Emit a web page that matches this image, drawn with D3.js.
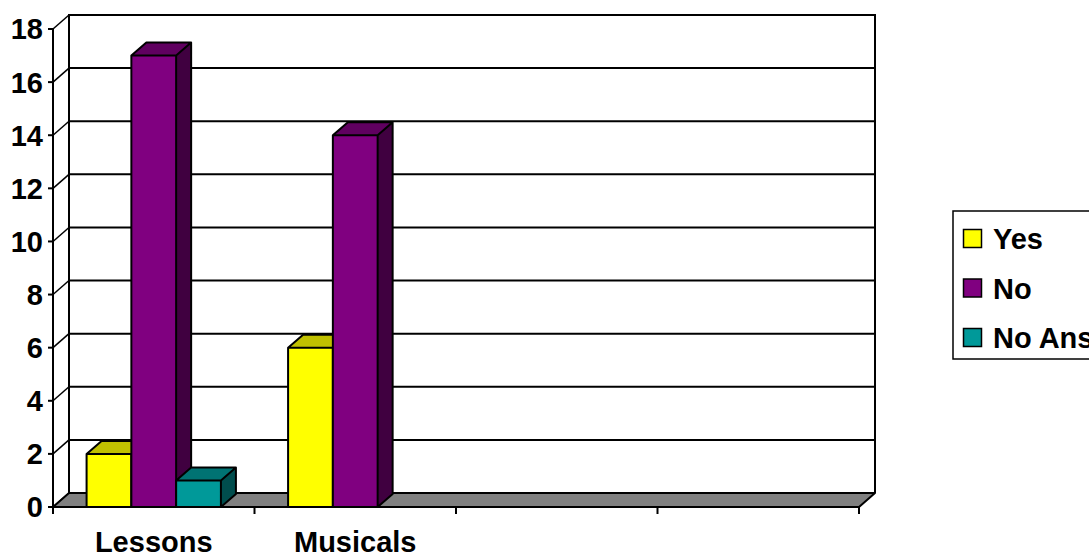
<!DOCTYPE html>
<html>
<head>
<meta charset="utf-8">
<script src="https://cdn.jsdelivr.net/npm/d3@7"></script>
<style>
  html, body { margin: 0; padding: 0; background: #fff; }
  svg { display: block; }
  text { font-family: Arial, "Liberation Sans", sans-serif; font-weight: bold; fill: #000; }
</style>
</head>
<body>
<svg id="chart" width="1089" height="556"></svg>
<script>
// Survey answers per topic
const categories = ["Lessons", "Musicals", "", ""];
const seriesNames = ["Yes", "No", "No Ans"];
const yesValues = [2, 6, null, null];
const noValues = [17, 14, null, null];
const noAnsValues = [1, 0, null, null];
const yTicks = [0, 2, 4, 6, 8, 10, 12, 14, 16, 18];

const seriesValues = [yesValues, noValues, noAnsValues];
const fills = [
  { front: "#FFFF00", top: "#C0C000", side: "#808000" },
  { front: "#800080", top: "#600060", side: "#400040" },
  { front: "#009999", top: "#007373", side: "#004D4D" }
];

const svg = d3.select("#chart");
const fontSize = "29px";

// Front plane geometry and depth offsets of the 3D box
const left = 53, right = 859;
const depthX = 16, depthY = -14;      // floor / walls
const barDX = 15, barDY = -13;        // column depth

const x = d3.scaleBand().domain(d3.range(categories.length)).range([left, right]).paddingInner(0).paddingOuter(0);
const y = d3.scaleLinear().domain([0, 18]).range([507, 29]);

// gap width 150%: three columns plus 1.5 column widths of gap per category
const colW = x.bandwidth() / 4.5;
const inner = d3.scaleBand().domain(d3.range(seriesNames.length)).range([0, colW * 3]);

const lineColor = "#000";

// Back wall gridlines
svg.append("g").selectAll("line").data(yTicks).join("line")
  .attr("x1", left + depthX).attr("x2", right + depthX)
  .attr("y1", d => y(d) + depthY).attr("y2", d => y(d) + depthY)
  .attr("stroke", lineColor).attr("stroke-width", 2);

// Left wall diagonals
svg.append("g").selectAll("line").data(yTicks).join("line")
  .attr("x1", left).attr("x2", left + depthX)
  .attr("y1", d => y(d)).attr("y2", d => y(d) + depthY)
  .attr("stroke", lineColor).attr("stroke-width", 1.5);

// Back wall outline
svg.append("path")
  .attr("d", `M${left + depthX},${y(0) + depthY}V${y(18) + depthY}H${right + depthX}V${y(0) + depthY}`)
  .attr("fill", "none").attr("stroke", lineColor).attr("stroke-width", 2);

// Floor
svg.append("path")
  .attr("d", `M${left},${y(0)}L${right},${y(0)}L${right + depthX},${y(0) + depthY}L${left + depthX},${y(0) + depthY}Z`)
  .attr("fill", "#808080").attr("stroke", lineColor).attr("stroke-width", 2).attr("stroke-linejoin", "round");

// Columns, drawn left to right so each front face covers the previous side face
const bars = [];
categories.forEach((c, ci) => {
  seriesValues.forEach((vals, si) => {
    const v = vals[ci];
    if (v == null || v <= 0) return;
    bars.push({ ci, si, v });
  });
});

const barG = svg.append("g");
bars.forEach(b => {
  const x0 = x(b.ci) + colW * 0.75 + inner(b.si);
  const x1 = x0 + inner.bandwidth();
  const yt = y(b.v), yb = y(0);
  const g = barG.append("g");
  const f = fills[b.si];
  // side
  g.append("path")
    .attr("d", `M${x1},${yb}L${x1 + barDX},${yb + barDY}L${x1 + barDX},${yt + barDY}L${x1},${yt}Z`)
    .attr("fill", f.side);
  // top
  g.append("path")
    .attr("d", `M${x0},${yt}L${x0 + barDX},${yt + barDY}L${x1 + barDX},${yt + barDY}L${x1},${yt}Z`)
    .attr("fill", f.top);
  // front
  g.append("rect")
    .attr("x", x0).attr("y", yt).attr("width", x1 - x0).attr("height", yb - yt)
    .attr("fill", f.front);
  // outline
  g.append("path")
    .attr("d", `M${x0},${yb}V${yt}L${x0 + barDX},${yt + barDY}H${x1 + barDX}V${yb + barDY}L${x1},${yb}Z M${x0},${yt}H${x1}L${x1 + barDX},${yt + barDY} M${x1},${yt}V${yb}`)
    .attr("fill", "none").attr("stroke", lineColor).attr("stroke-width", 2).attr("stroke-linejoin", "round");
});

// Front value axis
svg.append("line").attr("x1", left).attr("x2", left).attr("y1", y(18)).attr("y2", y(0))
  .attr("stroke", lineColor).attr("stroke-width", 2);
svg.append("g").selectAll("line").data(yTicks).join("line")
  .attr("x1", left - 5).attr("x2", left)
  .attr("y1", d => y(d)).attr("y2", d => y(d))
  .attr("stroke", lineColor).attr("stroke-width", 2);
svg.append("g").selectAll("text").data(yTicks).join("text")
  .attr("x", left - 10).attr("y", d => y(d))
  .attr("text-anchor", "end").attr("dy", "0.36em")
  .style("font-size", fontSize)
  .text(d => d);

// Category axis
svg.append("line").attr("x1", left).attr("x2", right).attr("y1", y(0)).attr("y2", y(0))
  .attr("stroke", lineColor).attr("stroke-width", 2);
const tickXs = d3.range(categories.length).map(i => x(i)).concat([right]);
svg.append("g").selectAll("line").data(tickXs).join("line")
  .attr("x1", d => d).attr("x2", d => d)
  .attr("y1", y(0)).attr("y2", y(0) + 7)
  .attr("stroke", lineColor).attr("stroke-width", 2);
svg.append("g").selectAll("text").data(categories).join("text")
  .attr("x", (d, i) => x(i) + x.bandwidth() / 2)
  .attr("y", 552)
  .attr("text-anchor", "middle")
  .style("font-size", fontSize)
  .text(d => d);

// Legend
const legend = svg.append("g");
legend.append("rect").attr("x", 953).attr("y", 211).attr("width", 160).attr("height", 148)
  .attr("fill", "#fff").attr("stroke", lineColor).attr("stroke-width", 1.5);
seriesNames.forEach((name, i) => {
  const cy = 239 + i * 49.5;
  legend.append("rect").attr("x", 963.5).attr("y", cy - 9.5).attr("width", 18).attr("height", 18)
    .attr("fill", fills[i].front).attr("stroke", lineColor).attr("stroke-width", 1.5);
  legend.append("text").attr("x", 993).attr("y", cy).attr("dy", "0.36em")
    .style("font-size", fontSize).text(name);
});
</script>
</body>
</html>
